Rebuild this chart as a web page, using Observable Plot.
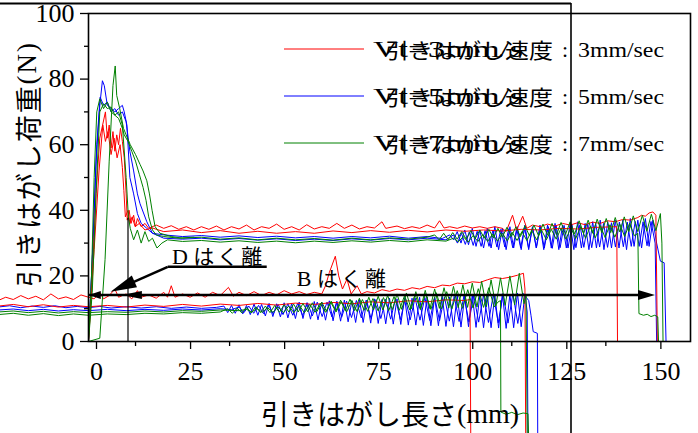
<!DOCTYPE html>
<html><head><meta charset="utf-8">
<script src="https://cdn.jsdelivr.net/npm/d3@7"></script>
<script src="https://cdn.jsdelivr.net/npm/@observablehq/plot@0.6"></script>
<style>html,body{margin:0;padding:0;background:#fff;overflow:hidden}</style>
</head><body><div id="chart"></div>
<script>
// ---------- data (x: 引きはがし長さ mm, y: 荷重 N) ----------
const xTicks = [0, 25, 50, 75, 100, 125, 150];
const xMinor = [12.5, 37.5, 62.5, 87.5, 112.5, 137.5];
const yTicks = [0, 20, 40, 60, 80, 100];
const yMinor = [10, 30, 50, 70, 90];
const speeds = ["3mm/sec", "5mm/sec", "7mm/sec"];
const speedColors = ["#ff0000", "#0000ff", "#008000"];

// upper group (B はく離)
const redU1 = [[0,0],[1,20],[2,45],[3,62],[4.5,70],[5,62],[5.5,66],[6,59],[6.5,64],[7,58],[7.5,63],[8,60],[8.5,65],[9,61],[9.5,56],[10,45],[10.3,37],[10.8,40],[11.3,36],[12,38.5],[12.5,35],[13,37.5],[14,35],[15,36],[16,34.5],[18,35.5],[20,34.5],[22,35.3],[24,34.2],[26,35],[28,34],[30,35],[32,34.2],[34,35.2],[36,34],[38,35],[40,34.3],[42,35.5],[44,34],[46,35],[48,34.5],[50,35.8],[52,34.2],[54,35],[56,34],[58,35.6],[60,34.3],[62,35],[64,34.5],[66,36],[68,34.5],[70,35.5],[72,34.3],[74,35],[76,34.6],[78,36.5],[79,34.5],[82,35.2],[84,34.4],[86,35],[88,34.5],[90,35.5],[92,34.6],[93.3,36.8],[94.5,34.6],[96,35],[98,34.5],[100,35.2],[102,34.6],[104,35],[106,34.5],[108,35],[110,34.5],[111,33.5],[112.7,38.5],[113.8,34],[115.4,38.2],[116.5,34.5],[118,35.5],[120,35],[122,35.8],[124,35.2],[126,36],[128,35.5],[130,36.2],[132,35.6],[134,36.4],[136,36],[138,36.8],[140,36.5],[142,37.2],[144,37],[146,37.8],[147,38.5],[148,38.2],[149,39.2],[150,39.5],[150.8,38.5],[151.2,0],[160,0]];
const redU2 = [[0,0],[1.5,28],[2.8,52],[3.8,66],[4.5,61],[5.2,64],[6,57],[6.8,62],[7.6,56],[8.4,60],[9,53],[9.4,46],[9.8,38],[10.5,40],[11,36],[11.6,38],[12.4,35],[13.5,36],[15,34],[17,34.6],[20,33.5],[25,34],[30,33.2],[35,33.8],[40,33],[45,33.6],[50,33],[55,33.5],[60,33],[65,33.7],[70,33.2],[75,33.8],[80,33.3],[85,33.9],[90,33.4],[95,34],[100,33.6],[105,34],[110,33.7],[115,34.2],[120,34],[125,34.5],[130,34.3],[135,34.8],[140.4,35],[140.6,0],[160,0]];
const blueU1Pre = [[0,0],[1,25],[2,55],[3,72],[3.7,79.5],[4.2,78],[5,72],[6,71],[7,70],[8,71],[9,72],[9.5,70],[10.2,66],[11,50],[12,45],[13,39],[14,36],[15.5,34.5],[17,33],[20,32.5],[25,32],[30,32.3],[35,31.8],[40,32.2],[45,31.7],[50,32.1],[55,31.6],[60,32],[65,31.5],[70,32],[75,31.6],[80,32.1],[85,31.5],[90,32],[94,31.4]];
const blueU1Osc = [32.5,31,33.5,30,34,29.5,34.5,29,34,28.5,34.5,28.5,35,28,34.5,28,35,28.5,35,28,35.5,28,35,28.5,35.5,28,35.5,28.5,36,28,35.5,28.5,36,28,36.5,28.5,36,28,36.5,28.5,37,28,36.5,28.5,37,28.5,37,28,37.5,29,37,28.5,37.5,29,37,30];
const blueU1Post = [[152,24.5],[153,24],[153.5,0],[160,0]];
const blueU2Pre = [[0,0],[1.2,30],[2.2,60],[3.1,74.5],[4,72],[5,73],[6,70],[7,71],[8,69],[9,70],[10,67],[11,58],[12,52],[13,45],[13.7,42],[15.5,36.5],[17,33],[20,31.5],[25,31.2],[30,31.5],[35,31],[40,31.4],[45,30.9],[50,31.3],[55,30.8],[60,31.2],[65,30.8],[70,31.3],[75,30.9],[80,31.4],[85,31],[90,31.5],[95,31]];
const blueU2Osc = [32.5,30,33,29.6,33.4,29.3,33.6,29,33.8,29,34,28.8,34.2,28.8,34.4,28.6,34.4,28.6,34.6,28.5,34.8,28.6,35,28.5,35,28.4,35.2,28.6,35.4,28.5,35.6,28.6,35.6,28.7,35.8,28.6,36,28.8,36,28.7,36.2,28.8,36.4,28.9,36.4,29,36.6,29,36.5,29.2,36.6];
const blueU2Post = [[150.6,30],[151,0],[160,0]];
const greenU1Pre = [[0,0],[3,1],[4.4,25],[5.5,55],[6.5,78],[7.1,84],[7.5,75],[8.3,71],[9.3,65],[10,63],[11.1,60],[12.5,57],[13.7,54],[14.5,52],[15.5,49],[16.2,45],[16.9,40],[17.7,35],[19,33],[22,32],[25,31.5],[30,31.8],[35,31.2],[40,31.6],[45,31],[50,31.5],[55,31],[60,31.4],[65,30.9],[70,31.5],[75,31],[80,31.6],[85,31.2],[90,31.8]];
const greenU1Osc = [32.5,31,33,31,33.2,31.2,33.5,31.2,33.8,31.4,34,31.5,34.2,31.6,34.5,31.8,34.8,32,35,32,35.3,32.2,35.5,32.3,35.8,32.4,36,32.6,36.3,32.7,36.5,32.8,36.8,33,37,33,37.3,33.2,37.5,33.2,37.8,33.4,38,33.5,38.3,33.5,38.5,33.6,38.8,33.8,39];
const greenU1Post = [[152.4,30],[152.7,0],[160,0]];
const greenU2Pre = [[0,0],[0.8,20],[1.5,50],[2.2,70],[3,74],[4,71],[5,73],[6,70],[7,69],[8,70],[9,66],[10,50],[10.6,38],[11.1,34.5],[12,31],[13,34],[14,30],[15,33.5],[16,30.5],[17,31.5],[18.2,28.5],[19.5,30],[21,31],[25,30.5],[30,30.8],[35,30.3],[40,30.7],[45,30.2],[50,30.6],[55,30.1],[60,30.6],[65,30.2],[70,30.7],[75,30.3],[80,30.8],[85,30.4],[90,31],[95,30.6]];
const greenU2Osc = [31.5,30.4,32,30.3,32.3,30.5,32.6,30.5,32.8,30.6,33,30.7,33.3,30.8,33.5,30.8,33.8,31,34,31,34.2,31.2,34.5,31.2,34.7,31.4,35,31.5,35.2,31.6,35.4,31.7,35.6,31.8,35.8,32,36,32.2];
const greenU2Post = [[146,33],[146.3,8.5],[147.5,8],[148.5,8.3],[149.5,7.6],[150.5,8],[151.3,7.5],[151.5,0],[160,0]];
const greenU3 = [[0,0],[1,15],[2,45],[3,70],[4,72.5],[5,71],[6,71.5],[7,69],[8,68],[9,65],[9.5,63],[10.5,61],[11.5,58],[12.5,55],[13.5,51],[14.5,47],[15.3,43],[16,38],[17,34],[18,32.5],[20,32],[24,31.5],[28,31.8]];

// lower group (D はく離)
const redL1 = [[-24,12.5],[-22,13.5],[-20,12.8],[-18,14],[-16,13],[-14,13.8],[-12,12.7],[-10,14.5],[-8,13],[-6,13.6],[-4,12.8],[-2,14.2],[0,13.5],[1.5,13],[3,15],[4,13],[5.5,14],[7,16],[8,13.5],[10,14.5],[11.5,13],[13,15.5],[14,13.5],[16,14.2],[18,13.2],[20,15],[21,13.5],[22,17],[23,13.5],[25,14.5],[27,13.5],[29,14.8],[31,13.5],[33,15],[35,14],[37.2,16.5],[38.5,13.8],[40,15],[42,14],[44,15.2],[46,14],[48,15],[50,14.2],[52,15.5],[54,14.5],[56,15.2],[58,14.3],[60,15],[62,14.5],[63,17],[64,21],[65.6,26],[66.5,20],[67.5,16],[68.7,19],[69.8,14.5],[71.4,17],[72.5,14.5],[74,15.2],[76,14.8],[78,15.8],[80,15.3],[82,16],[84,15.6],[86,16.4],[88,16],[90,16.8],[92,16.4],[94,17.2],[96,17],[98,17.8],[100,17.6],[102,18.2],[104,18],[106,18.8],[108,19.5],[110,19.2],[112,19.6],[114,20.2],[115.6,20.8],[116,16],[116.2,-30]];
const redL2 = [[-24,10.8],[-20,11.3],[-16,10.6],[-12,11.2],[-8,10.5],[-4,11],[0,10.6],[5,11],[10,10.5],[15,11.1],[20,10.7],[25,11.3],[30,10.8],[35,11.4],[40,11],[45,11.6],[50,11.1],[55,11.7],[60,11.3],[65,11.9],[70,11.5],[75,12.1],[80,11.8],[85,12.4],[90,12.1],[95,12.7],[100,12.5],[101.4,12.8],[101.6,-30]];
const blueL1Pre = [[-24,10.5],[-21,10.9],[-18,10.3],[-15,10.8],[-12,10.4],[-9,10.9],[-6,10.3],[-3,10.7],[0,10.3],[3,10.7],[6,10.2],[10,10.6],[14,10.2],[18,10.6],[22,10.1],[26,10.5],[30,10.1],[34,10.4]];
const blueL1Osc = [10.8,8.8,11,8.6,11.2,8.4,11,8.2,11.4,8,11.3,7.8,11.6,7.6,11.5,7.5,11.8,7.2,11.6,7,12,7,11.8,6.8,12.2,6.6,12,6.5,12.4,6.3,12.2,6.2,12.6,6,12.4,5.8,12.8,5.8,12.6,5.6,13,5.5,12.8,5.4,13.2,5.3,13,5.2,13.4,5,13.2,5,13.5,4.9,13.6,4.8,13.4,4.8,13.8,4.6,13.6,4.5,14,4.4,13.8,4.5,14.2,4.3,14,4.2,14.4,4.2,14.2,4.1,14.6,4,14.4,4.2,14.8,4.5,14.5];
const blueL1Post = [[116.6,9],[116.8,-30]];
const blueL2Pre = [[-24,9.6],[-20,9.9],[-16,9.4],[-12,9.8],[-8,9.3],[-4,9.7],[0,9.4],[5,9.8],[10,9.4],[15,9.8],[20,9.5],[25,9.9],[30,9.6],[35,10],[38,9.7]];
const blueL2Osc = [10.5,8.8,10.8,8.6,11,8.5,11.2,8.4,11.3,8.2,11.5,8,11.6,7.9,11.8,7.8,12,7.6,12,7.5,12.2,7.4,12.3,7.3,12.5,7.2,12.6,7,12.8,7,12.9,6.8,13,6.7,13.2,6.6,13.3,6.5,13.4,6.4,13.5,6.3,13.6,6.2,13.8,6.1,14,6,14,5.9,14.2,5.8,14.3,5.7,14.5,5.6,14.6,5.5,14.8];
const blueL2Post = [[117,12.5],[117.6,8],[118.2,3],[119.3,2.5],[119.4,-30]];
const greenL1Pre = [[-24,8.2],[-20,8.6],[-16,8],[-12,8.5],[-8,7.9],[-4,8.4],[0,8],[5,8.4],[10,8.2],[15,8.6],[20,8.4],[25,8.8],[30,8.6],[35,9]];
const greenL1Osc = [10,8.6,10.2,8.7,10.4,8.7,10.6,8.8,10.8,8.8,11,8.9,11.2,9,11.4,9,11.6,9.1,11.8,9.2,12,9.2,12.3,9.3,12.6,9.4,12.9,9.4,13.2,9.5,13.5,9.6,13.8,9.6,14.1,9.7,14.5,9.8,14.8,9.9,15.2,10,15.6,10,16,10.1,16.4,10.2,16.8,10.3,17.3,10.4,17.8,10.5,18.3,10.6,18.8,10.8,19.4,11,20,11.2,20.8,11.5];
const greenL1Post = [[116.3,14],[116.6,-30]];
const greenL2Pre = [[-24,9],[-20,9.3],[-16,8.8],[-12,9.2],[-8,8.7],[-4,9.1],[0,8.8],[5,9.1],[10,8.9],[15,9.3],[20,9],[25,9.4],[30,9.2],[35,9.6],[40,9.4]];
const greenL2Osc = [9.8,9,10,8.9,10.3,8.9,10.5,8.8,10.8,8.8,11,8.8,11.3,8.9,11.6,8.9,11.9,9,12.2,9,12.5,9.1,12.8,9.2,13.1,9.3,13.4,9.4,13.7,9.5,14,9.6,14.3,9.7,14.6,9.8,14.9,9.9,15.2,10,15.5,10.1,15.8,10.2,16.1,10.4,16.4,10.5];
const greenL2Post = [[108.8,12],[109.5,12.5],[109.6,-21.5],[111,-22.2],[112.5,-21.6],[114,-22.3],[115.5,-21.8],[116.8,-22],[117,-30]];

// annotations (data coordinates)
const bArrow = {y: 14.0, x1: 0.2, x2: 150.7};
const dUnder = {y: 22.6, x1: 21.2, x2: 47.5};
const dTip = [6.0, 15.0];
const dHead2 = [9.0, 14.0];
const dLabel = {x: 22.3, y: 23.6, latin: "D", jp: "はく離"};
const bLabel = {x: 55.5, y: 16.8, latin: "B", jp: "はく離"};

// ---------- build ----------
function osc(x0, dx, ys) { return ys.map((y, i) => [+(x0 + i * dx).toFixed(3), y]); }
const R = speedColors[0], B = speedColors[1], G = speedColors[2];
const curves = [
  {id: "blueL1", color: B, pts: [...blueL1Pre, ...osc(36, 1, blueL1Osc), ...blueL1Post]},
  {id: "blueL2", color: B, pts: [...blueL2Pre, ...osc(40, 1.3, blueL2Osc), ...blueL2Post]},
  {id: "blueU1", color: B, pts: [...blueU1Pre, ...osc(96, 1, blueU1Osc), ...blueU1Post]},
  {id: "blueU2", color: B, pts: [...blueU2Pre, ...osc(97, 1.05, blueU2Osc), ...blueU2Post]},
  {id: "redL2", color: R, pts: redL2},
  {id: "redL1", color: R, pts: redL1},
  {id: "redU2", color: R, pts: redU2},
  {id: "redU1", color: R, pts: redU1},
  {id: "greenL1", color: G, pts: [...greenL1Pre, ...osc(37, 1.25, greenL1Osc), ...greenL1Post]},
  {id: "greenL2", color: G, pts: [...greenL2Pre, ...osc(42, 1.4, greenL2Osc), ...greenL2Post]},
  {id: "greenU3", color: G, pts: greenU3},
  {id: "greenU2", color: G, pts: [...greenU2Pre, ...osc(97, 1.3, greenU2Osc), ...greenU2Post]},
  {id: "greenU1", color: G, pts: [...greenU1Pre, ...osc(92, 1.2, greenU1Osc), ...greenU1Post]},
];
const rows = curves.flatMap(c => c.pts.map(([x, y]) => ({x, y, id: c.id, color: c.color})));

const SERIF = "'Liberation Serif', 'Times New Roman', serif";
const JP = "'Noto Sans CJK JP', 'Noto Sans', sans-serif";

const plot = Plot.plot({
  width: 698, height: 433,
  marginLeft: 88, marginRight: 8, marginTop: 13, marginBottom: 92,
  x: {domain: [0, 160]},
  y: {domain: [0, 100]},
  style: {background: "white", overflow: "visible"},
  marks: [
    Plot.line(rows, {x: "x", y: "y", z: "id", stroke: "color", strokeWidth: 1}),
    Plot.frame({stroke: "black", strokeWidth: 1.6}),
    Plot.axisX({ticks: xTicks, tickSize: 8, tickPadding: 12, dx: 8, label: null, stroke: "black", strokeWidth: 1.3}),
    Plot.axisX({ticks: xMinor, tickSize: 5, tickFormat: () => "", label: null, stroke: "black", strokeWidth: 1.3}),
    Plot.axisY({ticks: yTicks, tickSize: 8, tickPadding: 6, label: null, stroke: "black", strokeWidth: 1.3}),
    Plot.axisY({ticks: yMinor, tickSize: 4, tickFormat: () => "", label: null, stroke: "black", strokeWidth: 1.3})
  ]
});
document.getElementById("chart").appendChild(plot);
const svg = d3.select(plot);
// tick labels: serif face at the reference size (set on every Plot-made text element)
svg.selectAll("text")
  .attr("font-family", SERIF).attr("font-size", "26px")
  .style("font-family", SERIF).style("font-size", "26px")
  .attr("stroke", "none").attr("fill", "black");
svg.selectAll("text").each(function() { this.parentNode.setAttribute("font-family", SERIF); this.parentNode.setAttribute("font-size", "26"); this.parentNode.setAttribute("stroke", "none"); });

const sx = plot.scale("x"), sy = plot.scale("y");
const X = v => sx.apply(v), Y = v => sy.apply(v);

// overlaid frame lines from the composite figure
svg.append("line").attr("x1", 0).attr("x2", 571).attr("y1", 3.5).attr("y2", 3.5).attr("stroke", "black").attr("stroke-width", 2);
svg.append("line").attr("x1", 571).attr("x2", 571).attr("y1", 3).attr("y2", 433).attr("stroke", "black").attr("stroke-width", 1.6);
svg.append("line").attr("x1", 128).attr("x2", 128).attr("y1", 218).attr("y2", Y(0)).attr("stroke", "black").attr("stroke-width", 1.2);

// axis titles
const yl = svg.append("text").attr("transform", "translate(27,165) rotate(-90)")
  .attr("text-anchor", "middle").attr("dominant-baseline", "central").attr("font-size", 27)
  .attr("textLength", 244).attr("lengthAdjust", "spacing");
yl.append("tspan").attr("font-family", JP).text("引きはがし荷重");
yl.append("tspan").attr("font-family", SERIF).text("(N)");
const xl = svg.append("text").attr("x", 390).attr("y", 413)
  .attr("text-anchor", "middle").attr("dominant-baseline", "central").attr("font-size", 28);
xl.append("tspan").attr("font-family", JP).text("引きはがし長さ");
xl.append("tspan").attr("font-family", SERIF).text("(mm)");

// legend
speeds.forEach((s, i) => {
  const cy = 49 + i * 47;
  svg.append("line").attr("x1", 284).attr("x2", 364).attr("y1", cy).attr("y2", cy).attr("stroke", speedColors[i]).attr("stroke-width", 1);
  svg.append("text").attr("x", 373).attr("y", cy).attr("text-anchor", "start").attr("dominant-baseline", "central")
    .attr("font-family", SERIF).attr("font-size", 23)
    .attr("textLength", 150).attr("lengthAdjust", "spacingAndGlyphs").text("Vt=" + s.replace("ec", ""));
  svg.append("text").attr("x", 385).attr("y", cy).attr("text-anchor", "start").attr("dominant-baseline", "central")
    .attr("font-family", JP).attr("font-size", 21)
    .attr("textLength", 168).attr("lengthAdjust", "spacingAndGlyphs").text("引きはがし速度");
  svg.append("text").attr("x", 562).attr("y", cy).attr("text-anchor", "start").attr("dominant-baseline", "central")
    .attr("font-family", SERIF).attr("font-size", 22).text(":");
  svg.append("text").attr("x", 578).attr("y", cy).attr("text-anchor", "start").attr("dominant-baseline", "central")
    .attr("font-family", SERIF).attr("font-size", 22)
    .attr("textLength", 86).attr("lengthAdjust", "spacingAndGlyphs").text(s);
});

// annotations
function head(tip, from, len, hw) {
  const dx = tip[0] - from[0], dy = tip[1] - from[1], L = Math.hypot(dx, dy), ux = dx / L, uy = dy / L;
  const bx = tip[0] - ux * len, by = tip[1] - uy * len;
  return `M${tip[0]},${tip[1]}L${bx - uy * hw},${by + ux * hw}L${bx + uy * hw},${by - ux * hw}Z`;
}
const by = Y(bArrow.y);
svg.append("line").attr("x1", X(bArrow.x1)).attr("x2", X(bArrow.x2) - 8).attr("y1", by).attr("y2", by).attr("stroke", "black").attr("stroke-width", 2.5);
svg.append("path").attr("d", head([X(bArrow.x1), by], [X(bArrow.x1) + 10, by], 12, 4)).attr("fill", "black");
svg.append("path").attr("d", head([X(bArrow.x2), by], [X(bArrow.x2) - 10, by], 17, 5)).attr("fill", "black");
svg.append("path").attr("d", head([X(dHead2[0]), Y(dHead2[1])], [X(dHead2[0]) + 10, Y(dHead2[1])], 20, 4)).attr("fill", "black");
const du = Y(dUnder.y);
svg.append("line").attr("x1", X(dUnder.x1)).attr("x2", X(dUnder.x2)).attr("y1", du).attr("y2", du).attr("stroke", "black").attr("stroke-width", 2.5);
const tipP = [X(dTip[0]), Y(dTip[1])], startP = [X(dUnder.x1), du];
svg.append("line").attr("x1", startP[0]).attr("y1", startP[1]).attr("x2", tipP[0] + 12).attr("y2", tipP[1] - 5).attr("stroke", "black").attr("stroke-width", 2.5);
svg.append("path").attr("d", head(tipP, startP, 26, 6.5)).attr("fill", "black");

[dLabel, bLabel].forEach(l => {
  const t = svg.append("text").attr("x", X(l.x)).attr("y", Y(l.y)).attr("text-anchor", "start").attr("font-size", 22);
  t.append("tspan").attr("font-family", SERIF).text(l.latin + " ");
  t.append("tspan").attr("font-family", JP).attr("font-size", 21).attr("letter-spacing", 3).text(l.jp);
});
</script></body></html>
